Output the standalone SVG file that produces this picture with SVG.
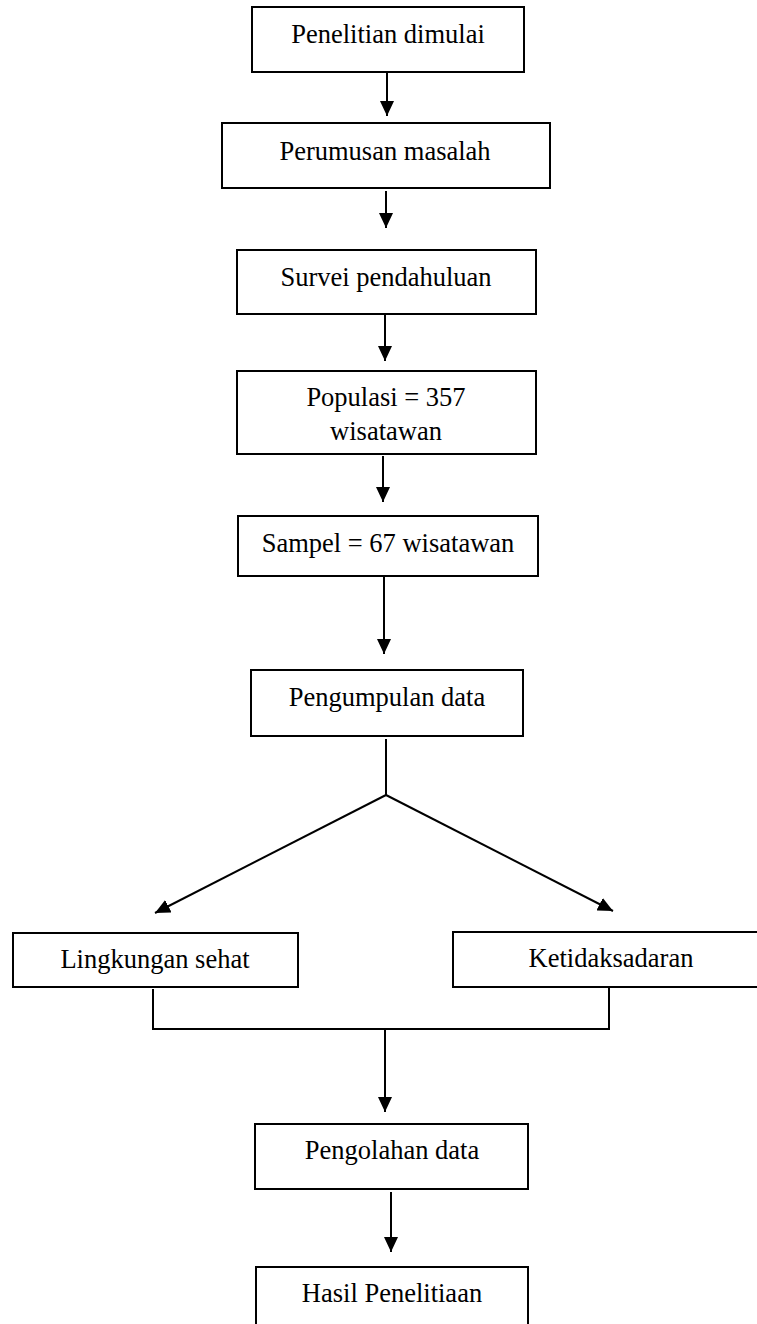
<svg xmlns="http://www.w3.org/2000/svg" width="757" height="1324" viewBox="0 0 757 1324">
<style>
.box{fill:#fff;stroke:#000;stroke-width:2}
.lbl{font-family:"Liberation Serif","Times New Roman",serif;font-size:26.5px;fill:#000;text-anchor:middle}
.con{fill:none;stroke:#000;stroke-width:2}
</style>
<defs>
<marker id="ah" viewBox="0 0 15 14" refX="15" refY="7" markerWidth="15" markerHeight="14" markerUnits="userSpaceOnUse" orient="auto">
<path d="M0,0 L15,7 L0,14 z" fill="#000"/>
</marker>
</defs>
<rect width="757" height="1324" fill="#fff"/>
<g id="connectors">
<line class="con" x1="387" y1="73" x2="387" y2="116" marker-end="url(#ah)"/>
<line class="con" x1="386" y1="191" x2="386" y2="228" marker-end="url(#ah)"/>
<line class="con" x1="385" y1="315" x2="385" y2="361" marker-end="url(#ah)"/>
<line class="con" x1="383" y1="456" x2="383" y2="502" marker-end="url(#ah)"/>
<line class="con" x1="384" y1="577" x2="384" y2="654" marker-end="url(#ah)"/>
<polyline class="con" points="386,739 386,795"/>
<line class="con" x1="386" y1="795" x2="155" y2="913" marker-end="url(#ah)"/>
<line class="con" x1="386" y1="795" x2="613" y2="911" marker-end="url(#ah)"/>
<polyline class="con" points="153,989 153,1029 609,1029 609,988"/>
<line class="con" x1="385" y1="1029" x2="385" y2="1112" marker-end="url(#ah)"/>
<line class="con" x1="391" y1="1192" x2="391" y2="1252" marker-end="url(#ah)"/>
</g>
<g id="n1"><rect class="box" x="252" y="7" width="272" height="65"/><text class="lbl" x="388" y="43">Penelitian dimulai</text></g>
<g id="n2"><rect class="box" x="222" y="123" width="328" height="65"/><text class="lbl" x="385" y="160">Perumusan masalah</text></g>
<g id="n3"><rect class="box" x="237" y="250" width="299" height="64"/><text class="lbl" x="386" y="286">Survei pendahuluan</text></g>
<g id="n4"><rect class="box" x="237" y="371" width="299" height="83"/><text class="lbl" x="386" y="406">Populasi = 357</text><text class="lbl" x="386" y="440">wisatawan</text></g>
<g id="n5"><rect class="box" x="238" y="516" width="300" height="60"/><text class="lbl" x="388" y="552">Sampel = 67 wisatawan</text></g>
<g id="n6"><rect class="box" x="251" y="670" width="272" height="66"/><text class="lbl" x="387" y="706">Pengumpulan data</text></g>
<g id="n7"><rect class="box" x="13" y="933" width="285" height="54"/><text class="lbl" x="155" y="968">Lingkungan sehat</text></g>
<g id="n8"><rect class="box" x="453" y="932" width="320" height="55"/><text class="lbl" x="611" y="967">Ketidaksadaran</text></g>
<g id="n9"><rect class="box" x="255" y="1124" width="273" height="65"/><text class="lbl" x="392" y="1159">Pengolahan data</text></g>
<g id="n10"><rect class="box" x="256" y="1267" width="272" height="80"/><text class="lbl" x="392" y="1302">Hasil Penelitiaan</text></g>
</svg>
